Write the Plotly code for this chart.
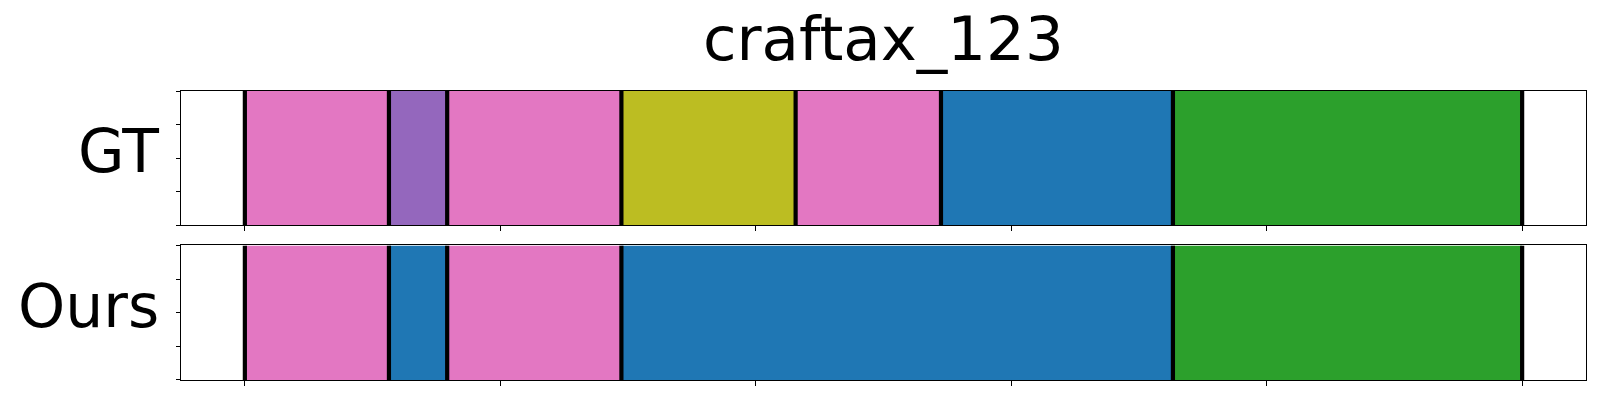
import plotly.graph_objects as go
from plotly.subplots import make_subplots

# Data (frame positions of segment boundaries, segment categories)
title_text = "craftax_123"
row_labels = ["GT", "Ours"]
gt_bounds = [0, 56.4, 79.2, 147.4, 215.6, 272.5, 363.3, 500]
gt_segments = ["pink", "purple", "pink", "olive", "pink", "blue", "green"]
ours_bounds = [0, 56.4, 79.2, 147.4, 363.3, 500]
ours_segments = ["pink", "blue", "pink", "blue", "green"]
x_ticks = [0, 100, 200, 300, 400, 500]
y_ticks = [0, 0.25, 0.5, 0.75, 1.0]

palette = {
    "pink": "#e377c2",
    "purple": "#9467bd",
    "olive": "#bcbd22",
    "blue": "#1f77b4",
    "green": "#2ca02c",
}

W, H = 1600, 400
# target pixel geometry in the window
L_px, R_px, T_px, B_px = 181.3, 1585.7, 90.7, 380.0
ml = L_px
mr = W - R_px
mt = T_px
mb = H - B_px
gt_bottom_px = 225.0
ours_top_px = 245.3

def py(px):
    return (B_px - px) / (B_px - T_px)

def pxx(px):
    return (px - L_px) / (R_px - L_px)

gt_dom = [py(gt_bottom_px), 1.0]
ours_dom = [0.0, py(ours_top_px)]

fig = make_subplots(rows=2, cols=1, shared_xaxes=False, vertical_spacing=0.05)

def add_row(bounds, segs, row):
    for i, s in enumerate(segs):
        fig.add_trace(go.Bar(
            y=[0.5], x=[bounds[i + 1] - bounds[i]], base=[bounds[i]],
            orientation="h", width=1.0,
            marker=dict(color=palette[s], line=dict(width=0)),
            showlegend=False, hoverinfo="skip"), row=row, col=1)
    for b in bounds:
        fig.add_trace(go.Scatter(
            x=[b, b], y=[0, 1], mode="lines",
            line=dict(color="black", width=4.2),
            showlegend=False, hoverinfo="skip"), row=row, col=1)

add_row(gt_bounds, gt_segments, 1)
add_row(ours_bounds, ours_segments, 2)

span = x_ticks[-1] - x_ticks[0]
xr = [x_ticks[0] - 0.05 * span, x_ticks[-1] + 0.05 * span]

axis_common = dict(showline=True, linecolor="black", linewidth=1, mirror=True,
                   showgrid=False, zeroline=False, showticklabels=False,
                   ticks="outside", tickcolor="black", ticklen=4.5, tickwidth=1)

fig.update_xaxes(range=xr, tickvals=x_ticks, **axis_common)
fig.update_yaxes(range=[0, 1], tickvals=y_ticks, **axis_common)
fig.update_layout(
    barmode="overlay",
    xaxis=dict(domain=[0, 1]), xaxis2=dict(domain=[0, 1]),
    yaxis=dict(domain=gt_dom), yaxis2=dict(domain=ours_dom),
)

font = dict(family="DejaVu Sans", size=60, color="black")
annotations = [
    dict(text=title_text, x=0.5, y=py(38), xref="paper", yref="paper",
         xanchor="center", yanchor="middle", showarrow=False,
         font=dict(family="DejaVu Sans", size=61, color="black")),
    dict(text=row_labels[0], x=pxx(161), y=py(151), xref="paper", yref="paper",
         xanchor="right", yanchor="middle", showarrow=False, font=font),
    dict(text=row_labels[1], x=pxx(161), y=py(306), xref="paper", yref="paper",
         xanchor="right", yanchor="middle", showarrow=False, font=font),
]

fig.update_layout(
    width=W, height=H,
    margin=dict(l=ml, r=mr, t=mt, b=mb, pad=0),
    paper_bgcolor="white", plot_bgcolor="white",
    annotations=annotations,
    font=dict(family="DejaVu Sans", color="black"),
)

fig.write_html("out.html",
               config={"displayModeBar": False, "staticPlot": True},
               post_script="document.body.style.margin='0';document.body.style.overflow='hidden';")
